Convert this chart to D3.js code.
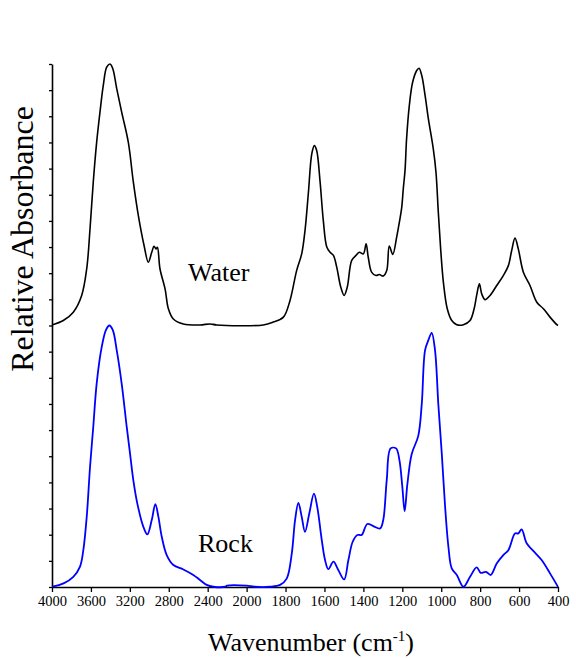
<!DOCTYPE html>
<html>
<head>
<meta charset="utf-8">
<script src="https://cdn.jsdelivr.net/npm/d3@7"></script>
<style>
  body { margin: 0; background: #fff; }
</style>
</head>
<body>
<div id="chart"></div>
<script>
// spectra (wavenumber in cm-1, relative absorbance)
var waterWn = [4000,3884,3781,3695,3643,3609,3576,3541,3507,3473,3438,3404,3376,3335,3284,3216,3164,3113,3054,3010,
  2975,2951,2931,2917,2890,2838,2804,2753,2650,2479,2376,2307,1914,1863,1811,1777,1743,1717,1700,1683,
  1665,1652,1640,1623,1606,1588,1571,1554,1537,1516,1499,1483,1460,1438,1421,1400,1386,1375,1357,1335,
  1318,1298,1280,1267,1249,1229,1221,1203,1195,1186,1178,1164,1147,1126,1114,1100,1083,1066,1041,1027,
  1015,1003,989,969,946,920,886,852,831,818,804,792,775,749,715,681,655,638,621,604,
  578,544,509,475,441,406,400];
var waterAbs = [0.02,0.19,0.51,1.15,2.18,3.71,5.48,7.01,8.16,9.18,9.88,10.0,9.83,9.06,8.16,7.01,5.48,4.21,3.06,2.42,
  2.80,3.03,2.93,2.99,2.16,1.40,0.64,0.25,0.06,0.02,0.06,0.02,0.02,0.13,0.32,0.96,2.10,2.74,3.63,5.04,
  6.57,6.88,6.69,5.54,4.02,3.00,2.80,2.68,2.23,1.46,1.15,1.46,2.49,2.68,2.80,2.74,3.12,2.61,2.03,1.91,
  1.95,1.89,2.10,3.04,2.72,3.38,3.70,4.52,5.23,5.93,7.14,8.41,9.30,9.75,9.84,9.56,8.80,7.90,6.76,5.86,
  4.33,2.93,1.66,0.64,0.19,0.03,0.03,0.19,0.64,1.15,1.59,1.21,0.99,1.15,1.53,1.91,2.29,2.87,3.34,2.93,
  2.04,1.53,0.89,0.64,0.32,0.03,0.0];

var rockWn = [4000,3881,3781,3712,3678,3643,3609,3576,3541,3489,3445,3411,3376,3335,3284,3232,3198,3164,3123,3061,
  3020,2975,2938,2907,2872,2821,2753,2650,2548,2479,2410,2342,2220,2200,2000,1960,1880,1828,1794,1768,
  1751,1734,1717,1700,1678,1654,1637,1614,1597,1580,1554,1529,1499,1477,1455,1431,1409,1380,1349,1314,
  1298,1280,1260,1232,1215,1200,1188,1174,1152,1118,1100,1083,1066,1049,1032,1015,997,980,963,946,
  920,886,852,818,797,770,746,715,681,655,621,604,587,561,527,484,441,406,400];
var rockAbs = [0.01,0.14,0.39,0.78,1.41,2.69,4.60,6.12,7.78,9.18,9.83,10.0,9.83,9.06,7.78,6.12,5.10,4.08,3.19,2.30,
  2.01,2.56,3.17,2.69,1.92,1.22,0.84,0.67,0.46,0.27,0.08,0.01,0.01,0.05,0.05,0.01,0.01,0.08,0.32,1.28,
  2.56,3.22,2.69,2.11,2.81,3.57,3.06,1.80,1.03,0.68,0.97,0.65,0.29,1.03,1.73,1.99,1.99,2.41,2.33,2.24,
  2.56,4.09,5.30,5.30,4.86,3.84,2.90,3.93,5.08,5.78,7.00,9.06,9.44,9.72,9.06,7.00,5.08,3.06,1.53,0.71,
  0.46,0.01,0.39,0.75,0.54,0.58,0.46,0.90,1.22,1.41,2.05,2.05,2.20,1.67,1.38,1.03,0.52,0.08,0.0];

var xTicks = [4000,3600,3200,2800,2400,2000,1800,1600,1400,1200,1000,800,600,400];
var yTicks = d3.range(0, 21);

var width = 576, height = 658;
var waterOffset = 10;
var serif = "'Liberation Serif'";

var svg = d3.select("#chart").append("svg")
    .attr("width", width)
    .attr("height", height);

// axis scale changes at 2000 cm-1 (400 per step above, 200 per step below)
var x = d3.scaleLinear().domain([4000, 2000, 400]).range([52, 52 + 5 * 506 / 13, 558]);
var y = d3.scaleLinear().domain([0, 20]).range([587, 64]);

var xAxis = svg.append("g")
    .attr("transform", "translate(0,587)")
    .call(d3.axisBottom(x).tickValues(xTicks).tickFormat(d3.format("d"))
      .tickSize(5).tickSizeOuter(0).tickPadding(4));
xAxis.selectAll("text")
    .attr("fill", "#000")
    .style("font-family", serif)
    .style("font-size", "14.5px");

var yAxis = svg.append("g")
    .attr("transform", "translate(52,0)")
    .call(d3.axisLeft(y).tickValues(yTicks).tickSize(3).tickSizeOuter(0).tickFormat(""));

svg.selectAll(".domain").attr("stroke", "#000").attr("stroke-width", 1.6);
svg.selectAll(".tick line").attr("stroke", "#000").attr("stroke-width", 1.3);

var line = d3.line().curve(d3.curveCatmullRom.alpha(0.5));

var water = waterWn.map(function(d, i) { return [x(d), y(waterAbs[i] + waterOffset)]; });
var rock = rockWn.map(function(d, i) { return [x(d), y(rockAbs[i])]; });

svg.append("path")
    .attr("d", line(water))
    .attr("fill", "none")
    .attr("stroke", "#000")
    .attr("stroke-width", 1.6);

svg.append("path")
    .attr("d", line(rock))
    .attr("fill", "none")
    .attr("stroke", "#0000ff")
    .attr("stroke-width", 1.8);

svg.append("text")
    .attr("x", 188)
    .attr("y", 281)
    .style("font-family", serif)
    .style("font-size", "26px")
    .text("Water");

svg.append("text")
    .attr("x", 198)
    .attr("y", 552)
    .style("font-family", serif)
    .style("font-size", "26px")
    .text("Rock");

// axis titles
var xt = svg.append("text")
    .attr("x", 311)
    .attr("y", 651)
    .attr("text-anchor", "middle")
    .style("font-family", serif)
    .style("font-size", "26px");
xt.append("tspan").text("Wavenumber (cm");
xt.append("tspan").attr("dy", -10).style("font-size", "15px").text("-1");
xt.append("tspan").attr("dy", 10).text(")");

svg.append("text")
    .attr("transform", "translate(33,239) rotate(-90)")
    .attr("text-anchor", "middle")
    .style("font-family", serif)
    .style("font-size", "32px")
    .text("Relative Absorbance");
</script>
</body>
</html>
